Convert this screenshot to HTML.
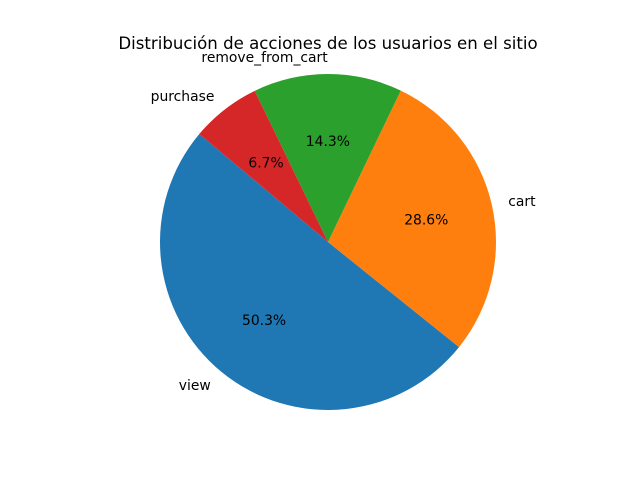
<!DOCTYPE html>
<html><head><meta charset="utf-8"><style>
html,body{margin:0;padding:0;background:#fff;}
svg{display:block;font-family:"DejaVu Sans","Liberation Sans",sans-serif;}
</style></head><body>
<svg id="chart" width="640" height="480" viewBox="0 0 640 480">
<rect width="640" height="480" fill="#fff"/>
<text x="328" y="49" text-anchor="middle" font-size="16.6" fill="#000">Distribución de acciones de los usuarios en el sitio</text>
<g id="slices"></g>
<g id="labels"></g>
</svg>
<script>
const categories = ["view", "cart", "remove_from_cart", "purchase"];
const values = [50.3, 28.6, 14.3, 6.7];
const colors = ["#1f77b4", "#ff7f0e", "#2ca02c", "#d62728"];
const startAngle = 140;

const NS = "http://www.w3.org/2000/svg";
const cx = 328, cy = 242, r = 168;
const total = values.reduce((a, b) => a + b, 0);
const sg = document.getElementById('slices');
const lg = document.getElementById('labels');
function pt(deg, rad) {
  const a = deg * Math.PI / 180;
  return [cx + rad * Math.cos(a), cy - rad * Math.sin(a)];
}
let ang = startAngle;
values.forEach((v, i) => {
  const sweep = v / total * 360;
  const a0 = ang, a1 = ang + sweep;
  const p0 = pt(a0, r), p1 = pt(a1, r);
  const large = sweep > 180 ? 1 : 0;
  const path = document.createElementNS(NS, 'path');
  path.setAttribute('d', `M${cx},${cy} L${p0[0]},${p0[1]} A${r},${r} 0 ${large} 0 ${p1[0]},${p1[1]} Z`);
  path.setAttribute('fill', colors[i]);
  
  
  sg.appendChild(path);
  const mid = (a0 + a1) / 2;
  const lp = pt(mid, r * 1.1);
  const cosm = Math.cos(mid * Math.PI / 180);
  const t = document.createElementNS(NS, 'text');
  t.setAttribute('x', lp[0]);
  t.setAttribute('y', lp[1] + 5);
  t.setAttribute('font-size', '13.9');
  t.setAttribute('text-anchor', cosm < 0 ? 'end' : 'start');
  t.textContent = categories[i];
  
  
  lg.appendChild(t);
  const pp = pt(mid, r * 0.6);
  const p = document.createElementNS(NS, 'text');
  p.setAttribute('x', pp[0]);
  p.setAttribute('y', pp[1] + 5);
  p.setAttribute('font-size', '13.9');
  p.setAttribute('text-anchor', 'middle');
  p.textContent = v.toFixed(1) + '%';
  
  
  lg.appendChild(p);
  ang = a1;
});
</script>
</body></html>
